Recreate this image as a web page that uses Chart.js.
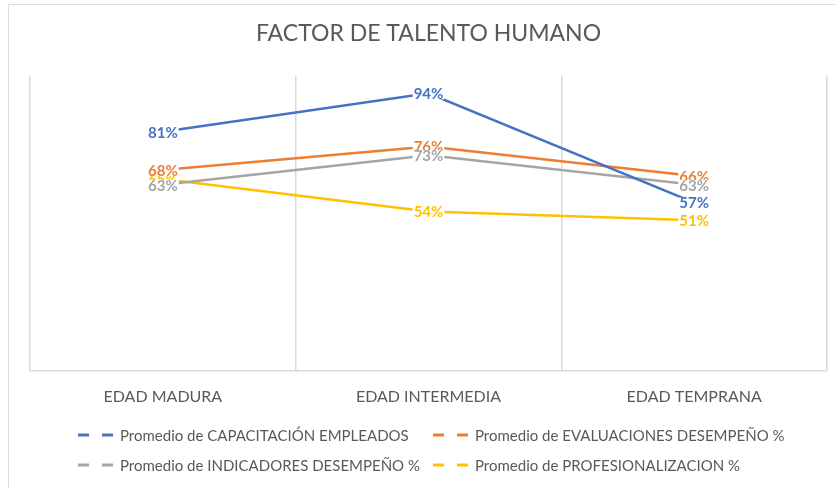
<!DOCTYPE html>
<html><head><meta charset="utf-8">
<script src="https://cdn.jsdelivr.net/npm/chart.js@4"></script>
<style>
html,body{margin:0;padding:0;background:#fff;}
#wrap{position:relative;width:835px;height:488px;overflow:hidden;background:#fff;}
#frame{position:absolute;left:8px;top:4px;width:840px;height:500px;border:1.5px solid #dcdcdc;box-sizing:border-box;}
canvas{position:absolute;left:0;top:0;}
</style></head><body>
<div id="wrap"><div id="frame"></div><canvas id="c" width="835" height="488"></canvas></div>
<script>
const categories = ["EDAD MADURA", "EDAD INTERMEDIA", "EDAD TEMPRANA"];
const seriesNames = [
  "Promedio de CAPACITACIÓN EMPLEADOS",
  "Promedio de EVALUACIONES DESEMPEÑO %",
  "Promedio de INDICADORES DESEMPEÑO %",
  "Promedio de PROFESIONALIZACION %"
];
const capacitacion = [81, 94, 57];
const evaluaciones = [68, 76, 66];
const indicadores = [63, 73, 63];
const profesionalizacion = [65, 54, 51];
const seriesColors = ["#4472C4", "#ED7D31", "#A5A5A5", "#FFC000"];
const titleText = "FACTOR DE TALENTO HUMANO";

const FONT = "Lato, 'Noto Sans', sans-serif";
const seriesValues = [capacitacion, evaluaciones, indicadores, profesionalizacion];

const datasets = seriesValues.map((vals, i) => ({
  label: seriesNames[i],
  data: vals,
  borderColor: seriesColors[i],
  backgroundColor: seriesColors[i],
  borderWidth: 2.5,
  pointRadius: 0,
  tension: 0,
  fill: false
}));

const labelPlugin = {
  id: 'valueLabels',
  afterDatasetsDraw(chart) {
    const ctx = chart.ctx;
    ctx.save();
    ctx.font = "bold 15px " + FONT;
    ctx.textAlign = 'center';
    ctx.textBaseline = 'middle';
    const order = [0, 3, 1, 2];
    order.forEach(di => {
      const meta = chart.getDatasetMeta(di);
      const ds = chart.data.datasets[di];
      meta.data.forEach((pt, j) => {
        const txt = ds.data[j] + '%';
        const w = ctx.measureText(txt).width;
        ctx.fillStyle = '#ffffff';
        ctx.fillRect(pt.x - w / 2 - 1, pt.y - 5, w + 2, 11);
        ctx.fillStyle = ds.borderColor;
        ctx.fillText(txt, pt.x, pt.y + 1);
      });
    });
    ctx.restore();
  }
};

const legendPlugin = {
  id: 'gridLegend',
  afterDraw(chart) {
    const ctx = chart.ctx;
    const slots = [[78, 435], [433, 435], [78, 465], [433, 465]];
    ctx.save();
    ctx.font = "15px " + FONT;
    ctx.textBaseline = 'middle';
    ctx.textAlign = 'left';
    chart.data.datasets.forEach((ds, i) => {
      const [x, y] = slots[i];
      ctx.strokeStyle = ds.borderColor;
      ctx.lineWidth = 3;
      ctx.setLineDash([11, 13]);
      ctx.beginPath();
      ctx.moveTo(x, y);
      ctx.lineTo(x + 38, y);
      ctx.stroke();
      ctx.setLineDash([]);
      ctx.fillStyle = '#595959';
      ctx.fillText(ds.label, x + 42, y + 1);
    });
    ctx.restore();
  }
};

new Chart(document.getElementById('c'), {
  type: 'line',
  data: { labels: categories, datasets },
  options: {
    responsive: false,
    animation: false,
    devicePixelRatio: 1,
    layout: { padding: { left: 30, right: 8, top: 0, bottom: 66 } },
    plugins: {
      legend: { display: false },
      tooltip: { enabled: false },
      title: {
        display: true,
        text: titleText,
        color: '#595959',
        font: { family: FONT, size: 23, weight: 'normal' },
        padding: { top: 20, bottom: 28 }
      }
    },
    scales: {
      x: {
        offset: true,
        grid: { offset: true, color: '#d9d9d9', lineWidth: 1.5, drawTicks: false },
        border: { display: true, color: '#d9d9d9', width: 1.5 },
        ticks: { padding: 16, color: '#595959', font: { family: FONT, size: 16 } }
      },
      y: {
        display: false,
        min: 0,
        max: 100
      }
    }
  },
  plugins: [labelPlugin, legendPlugin]
});
</script>
</body></html>
